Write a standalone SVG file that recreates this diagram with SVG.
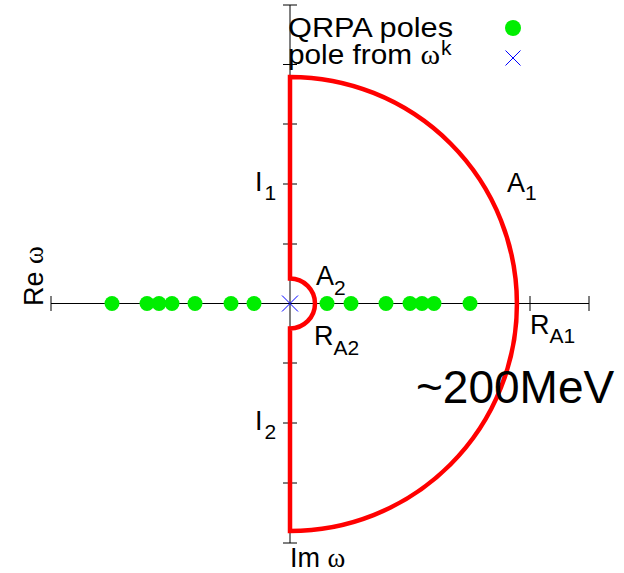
<svg xmlns="http://www.w3.org/2000/svg" width="624" height="573" viewBox="0 0 624 573">
  <style>
    .ax { stroke: #000; stroke-width: 1; fill: none; }
    .lbl { font-family: "Liberation Sans", Arial, sans-serif; font-size: 27px; fill: #000; }
    .sub { font-size: 21px; }
    .gr { font-family: "Liberation Serif", "Times New Roman", serif; }
    .pole { fill: #00ee00; }
    .cross { stroke: #0000ff; stroke-width: 1; fill: none; }
    .contour { stroke: #ff0000; stroke-width: 4.5; fill: none; stroke-linejoin: miter; }
  </style>
  <rect width="624" height="573" fill="#fff"/>
  <g id="axes">
    <path class="ax" d="M290,5 V543 M51,303.5 H589"/>
    <path class="ax" d="M283,5 H297 M283,64.5 H297 M283,124 H297 M283,184 H297 M283,244 H297 M283,363 H297 M283,423 H297 M283,483 H297 M283,543 H297"/>
    <path class="ax" d="M51,296 V311 M530,296 V311 M589,296 V311"/>
  </g>
  <g id="connectors">
    <path id="contour" class="contour" d="M290,77 L290,278.5 A25,25 0 0 1 290,328.5 L290,531 A227,227 0 0 0 290,77 Z"/>
  </g>
  <g id="poles">
    <circle class="pole" cx="112" cy="303.5" r="7.5"/>
    <circle class="pole" cx="147" cy="303.5" r="7.5"/>
    <circle class="pole" cx="159" cy="303.5" r="7.5"/>
    <circle class="pole" cx="172" cy="303.5" r="7.5"/>
    <circle class="pole" cx="195" cy="303.5" r="7.5"/>
    <circle class="pole" cx="231" cy="303.5" r="7.5"/>
    <circle class="pole" cx="254" cy="303.5" r="7.5"/>
    <circle class="pole" cx="327" cy="303.5" r="7.5"/>
    <circle class="pole" cx="351" cy="303.5" r="7.5"/>
    <circle class="pole" cx="386" cy="303.5" r="7.5"/>
    <circle class="pole" cx="410" cy="303.5" r="7.5"/>
    <circle class="pole" cx="422" cy="303.5" r="7.5"/>
    <circle class="pole" cx="434" cy="303.5" r="7.5"/>
    <circle class="pole" cx="470" cy="303.5" r="7.5"/>
  </g>
  <g id="omega-k-pole">
    <path class="cross" d="M282,295.5 L298,311.5 M298,295.5 L282,311.5"/>
  </g>
  <g id="legend">
    <text class="lbl" x="288" y="37" textLength="165" lengthAdjust="spacingAndGlyphs">QRPA poles</text>
    <circle class="pole" cx="513" cy="28" r="8"/>
    <text class="lbl" x="288" y="64" textLength="152" lengthAdjust="spacingAndGlyphs">pole from <tspan class="gr">ω</tspan></text>
    <text class="lbl sub" x="441" y="55">k</text>
    <path class="cross" d="M505.5,50.5 L520.5,65.5 M520.5,50.5 L505.5,65.5"/>
  </g>
  <g id="labels">
    <text class="lbl" x="255" y="191">I<tspan class="sub" dx="2" dy="9">1</tspan></text>
    <text class="lbl" x="255" y="430">I<tspan class="sub" dx="2" dy="9">2</tspan></text>
    <text class="lbl" x="507" y="192">A<tspan class="sub" dy="8">1</tspan></text>
    <text class="lbl" x="316" y="285">A<tspan class="sub" dy="10">2</tspan></text>
    <text class="lbl" x="314" y="345">R<tspan class="sub" dy="10">A2</tspan></text>
    <text class="lbl" x="530" y="334">R<tspan class="sub" dy="9">A1</tspan></text>
    <text class="lbl" x="416" y="403" style="font-size:46px">~200MeV</text>
    <text class="lbl" x="290" y="567">Im <tspan class="gr">ω</tspan></text>
    <text class="lbl" transform="translate(43,306) rotate(-90)">Re <tspan class="gr">ω</tspan></text>
  </g>
</svg>
